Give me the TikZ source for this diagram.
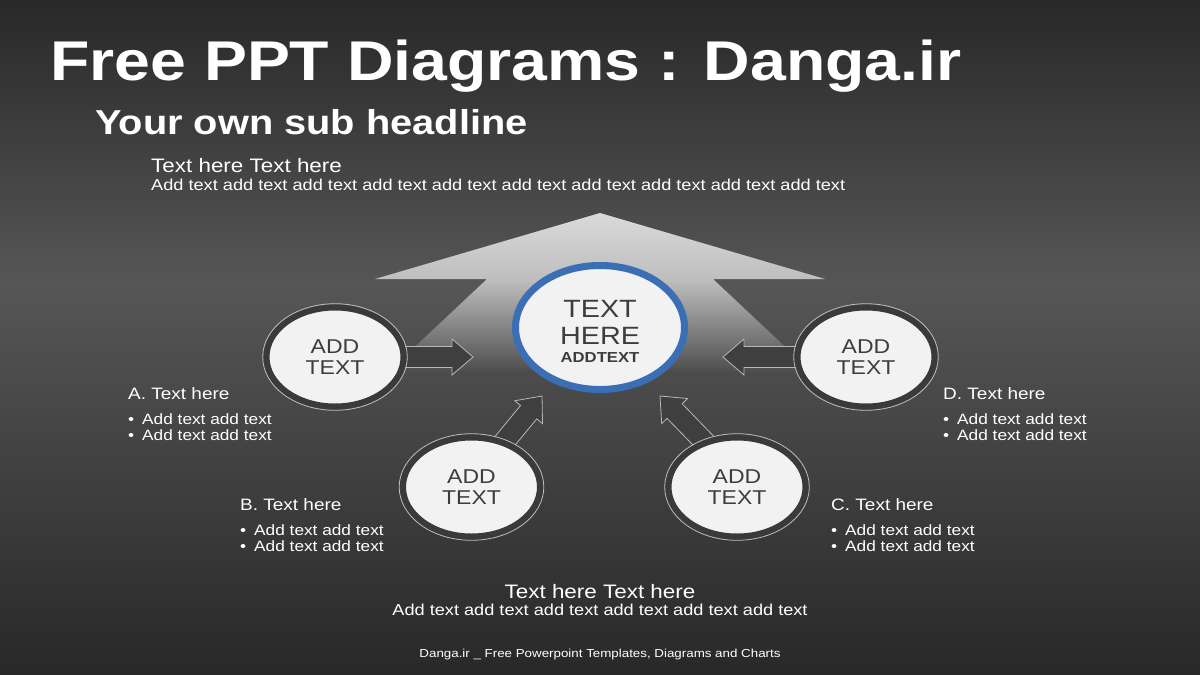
\documentclass[tikz,border=0pt]{standalone}
\usepackage{fontspec}
\setmainfont[FakeStretch=1.15]{Liberation Sans}
\usetikzlibrary{calc,shapes.geometric,backgrounds}
\definecolor{bgdark}{HTML}{282828}
\definecolor{bglight}{HTML}{565656}
\definecolor{housetop}{HTML}{DADADA}
\definecolor{housemid}{HTML}{BEBEBE}
\definecolor{housebot}{HTML}{4D4D4D}
\definecolor{ringdark}{HTML}{3A3A3A}
\definecolor{rimgray}{HTML}{BDBDBD}
\definecolor{podwhite}{HTML}{F2F2F2}
\definecolor{podtext}{HTML}{3D3D3D}
\definecolor{hubblue}{HTML}{3A6FB6}
\definecolor{arrowdark}{HTML}{3F3F3F}
\definecolor{arrowline}{HTML}{B8B8B8}
\pgfdeclareverticalshading{slidebg}{100bp}{color(0bp)=(bgdark); color(25bp)=(bgdark); color(54bp)=(bglight); color(75bp)=(bgdark); color(100bp)=(bgdark)}
\pgfdeclareverticalshading{housefade}{100bp}{color(0bp)=(housebot); color(25bp)=(housebot); color(54bp)=(housemid); color(75bp)=(housetop); color(100bp)=(housetop)}
% block arrow from #1 (tail) to #2 (tip)
\newcommand{\pointerarrow}[2]{%
    \coordinate (neck) at ($(#2)!21pt!(#1)$);
    \draw[pointer] ($(#1)!10.5pt!90:(#2)$) -- ($(neck)!10.5pt!90:(#2)$)
        -- ($(neck)!18pt!90:(#2)$) -- (#2)
        -- ($(neck)!18pt!-90:(#2)$) -- ($(neck)!10.5pt!-90:(#2)$)
        -- ($(#1)!10.5pt!-90:(#2)$) -- cycle;}
\tikzset{
    pod/.style={ellipse,draw=ringdark,line width=6pt,fill=podwhite,minimum width=137pt,minimum height=99pt,
        inner sep=0pt,align=center,text=podtext,font=\fontsize{20}{20.5}\selectfont},
    hub/.style={ellipse,draw=hubblue,line width=7pt,fill=podwhite,minimum width=169pt,minimum height=124pt},
    hubtext/.style={inner sep=0pt,anchor=base,text=podtext,font=\fontsize{25}{27}\selectfont},
    rim/.style={draw=rimgray,line width=0.8pt},
    pointer/.style={fill=arrowdark,draw=arrowline,line width=0.8pt,line join=miter},
    words/.style={text=white,inner sep=0pt,anchor=base west},
    headline/.style={words,font=\fontsize{56}{60}\selectfont\bfseries},
    subhead/.style={words,font=\fontsize{34.6}{38}\selectfont\bfseries},
    lead/.style={words,font=\fontsize{19.5}{22}\selectfont},
    leadsub/.style={words,font=\fontsize{15.8}{18}\selectfont},
    itemhead/.style={words,font=\fontsize{16.5}{18}\selectfont},
    bullet/.style={words,font=\fontsize{15}{16}\selectfont},
    foot/.style={words,anchor=base,font=\fontsize{11.6}{13}\selectfont},
}
\begin{document}
\begin{tikzpicture}[x=1pt,y=-1pt]
    \useasboundingbox (0,0) rectangle (1200,675);
    \begin{scope}[on background layer]
        \shade[shading=slidebg] (0,0) rectangle (1200,675);
        % big upward arrow behind the hub
        \shade[shading=housefade] (600,213) -- (825,279) -- (713,279) -- (812,372)
            -- (388,372) -- (487,279) -- (375,279) -- cycle;
    \end{scope}

    % circles
    \node[hub] (hub) at (600,327.5) {};
    \node[pod] (cA) at (335,357) {ADD\\TEXT};
    \node[pod] (cB) at (471.5,487) {ADD\\TEXT};
    \node[pod] (cC) at (737,487) {ADD\\TEXT};
    \node[pod] (cD) at (866,357) {ADD\\TEXT};
    \foreach \n in {cA,cB,cC,cD}
        \draw[rim] (\n) ellipse [x radius=72.3,y radius=53.3];

    \node[hubtext] (hubtop) at (600,317) {TEXT};
    \node[hubtext] (hubmid) at (600,344) {HERE};
    \node[hubtext,font=\fontsize{14.5}{16}\selectfont\bfseries] (hubsub) at (600,362) {ADDTEXT};

    % arrows into the hub
    \coordinate (tA) at (473,357);
    \coordinate (tB) at (542,396);
    \coordinate (tC) at (660,396);
    \coordinate (tD) at (723,357);
    \begin{scope}[on background layer]
        \pointerarrow{$(cA.east)!-6pt!(tA)$}{tA}
        \pointerarrow{$(cB.54)!-6pt!(tB)$}{tB}
        \pointerarrow{$(cC.126)!-6pt!(tC)$}{tC}
        \pointerarrow{$(cD.west)!-6pt!(tD)$}{tD}
    \end{scope}

    % texts
    \node[headline] (title) at (50,80) {Free PPT Diagrams : Danga.ir};
    \node[subhead] (sub) at (95,134) {Your own sub headline};
    \node[lead] (topline) at (151,172) {Text here Text here};
    \node[leadsub] (topsub) at (151,190) {Add text add text add text add text add text add text add text add text add text add text};

    \foreach \lab/\x/\y in {A/128/399, B/240/510, C/831/510, D/943/399} {
        \node[itemhead] (\lab head) at (\x,\y) {\lab. Text here};
        \node[bullet] (\lab one) at (\x,\y+25.5) {\textbullet\hspace{8pt}Add text add text};
        \node[bullet] (\lab two) at (\x,\y+41) {\textbullet\hspace{8pt}Add text add text};
    }

    \node[lead,anchor=base] (botline) at (600,598) {Text here Text here};
    \node[leadsub,anchor=base] (botsub) at (600,615) {Add text add text add text add text add text add text};
    \node[foot] (footer) at (600,657) {Danga.ir \_ Free Powerpoint Templates, Diagrams and Charts};
\end{tikzpicture}
\end{document}
